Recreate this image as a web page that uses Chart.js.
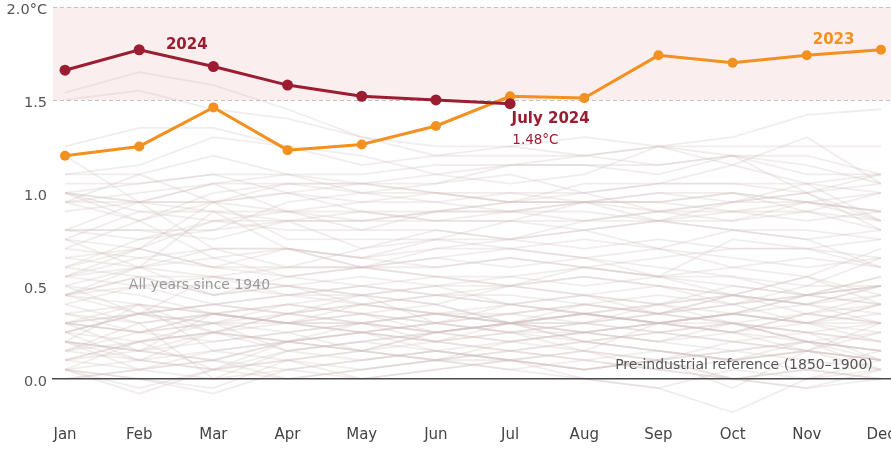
<!DOCTYPE html>
<html>
<head>
<meta charset="utf-8">
<script src="https://cdn.jsdelivr.net/npm/chart.js@4.4.1/dist/chart.umd.min.js"></script>
<style>
html,body{margin:0;padding:0;background:#fff;}
#wrap{width:891px;height:451px;}
</style>
</head>
<body>
<div id="wrap"><canvas id="c" width="891" height="451"></canvas></div>
<script>
// ---------- DATA ----------
const months = ["Jan","Feb","Mar","Apr","May","Jun","Jul","Aug","Sep","Oct","Nov","Dec"];
const yTickValues = [0, 0.5, 1.0, 1.5, 2.0];
const yTickLabels = ["0.0", "0.5", "1.0", "1.5", "2.0°C"];
const bandLow = 1.5;
const bandHigh = 2.0;

const values2024 = [1.66, 1.77, 1.68, 1.58, 1.52, 1.50, 1.48];
const values2023 = [1.20, 1.25, 1.46, 1.23, 1.26, 1.36, 1.52, 1.51, 1.74, 1.70, 1.74, 1.77];

const years1940s = [
  [0.15,0.25,0.30,0.35,0.30,0.35,0.40,0.35,0.40,0.35,0.45,0.50],
  [0.45,0.40,0.35,0.40,0.45,0.40,0.50,0.45,0.40,0.50,0.45,0.40],
  [0.35,0.30,0.35,0.30,0.30,0.25,0.30,0.25,0.30,0.35,0.30,0.35],
  [0.25,0.35,0.30,0.40,0.35,0.30,0.35,0.30,0.40,0.45,0.40,0.50],
  [0.45,0.50,0.40,0.45,0.50,0.45,0.50,0.55,0.50,0.45,0.40,0.35],
  [0.40,0.30,0.35,0.40,0.35,0.30,0.40,0.45,0.40,0.30,0.25,0.10],
  [0.20,0.15,0.20,0.25,0.15,0.10,0.15,0.20,0.15,0.10,0.15,0.05],
  [0.10,0.20,0.25,0.20,0.15,0.25,0.30,0.20,0.25,0.30,0.20,0.10],
  [0.25,0.10,0.05,0.20,0.25,0.20,0.15,0.20,0.15,0.10,0.15,0.10],
  [0.20,0.15,0.10,0.20,0.15,0.10,0.20,0.15,0.10,0.15,0.10,0.05]
];
const years1950s = [
  [0.00,0.05,0.10,0.05,0.10,0.15,0.10,0.05,0.10,0.00,-0.05,0.05],
  [0.05,-0.05,0.05,0.15,0.20,0.25,0.30,0.30,0.35,0.30,0.25,0.30],
  [0.30,0.25,0.20,0.25,0.30,0.25,0.30,0.25,0.20,0.15,0.20,0.25],
  [0.30,0.35,0.40,0.35,0.30,0.35,0.30,0.30,0.25,0.30,0.25,0.20],
  [0.10,0.20,0.05,0.10,0.05,0.10,0.10,0.05,0.10,0.15,0.20,0.05],
  [0.20,0.05,0.00,0.05,0.10,0.15,0.10,0.15,0.05,0.00,-0.05,0.00],
  [0.05,-0.08,0.05,0.00,0.05,0.10,0.05,0.00,-0.05,0.05,0.00,0.10],
  [0.10,0.15,0.10,0.20,0.25,0.30,0.25,0.30,0.35,0.30,0.35,0.40],
  [0.50,0.45,0.35,0.30,0.35,0.25,0.30,0.25,0.30,0.35,0.30,0.30],
  [0.30,0.25,0.35,0.30,0.25,0.30,0.25,0.30,0.25,0.20,0.25,0.20]
];
const years1960s = [
  [0.15,0.30,0.00,0.15,0.20,0.25,0.20,0.25,0.30,0.25,0.15,0.30],
  [0.25,0.35,0.30,0.30,0.25,0.30,0.25,0.25,0.20,0.25,0.20,0.15],
  [0.30,0.25,0.30,0.25,0.30,0.25,0.20,0.25,0.30,0.25,0.30,0.20],
  [0.20,0.40,0.15,0.20,0.25,0.20,0.30,0.35,0.40,0.45,0.40,0.30],
  [0.15,0.10,0.05,0.10,0.00,0.05,0.10,0.00,-0.05,-0.18,0.00,0.05],
  [0.10,0.05,0.10,0.00,0.05,0.10,0.05,0.10,0.15,0.10,0.05,0.15],
  [0.15,0.20,0.25,0.20,0.15,0.25,0.30,0.20,0.15,0.10,0.20,0.15],
  [0.20,0.10,0.25,0.20,0.25,0.15,0.20,0.25,0.20,0.30,0.20,0.15],
  [0.05,0.20,0.30,0.15,0.10,0.15,0.10,0.15,0.10,0.20,0.15,0.10],
  [0.20,0.15,0.25,0.35,0.40,0.35,0.30,0.35,0.30,0.35,0.45,0.40]
];
const years1970s = [
  [0.35,0.40,0.25,0.30,0.25,0.20,0.25,0.20,0.25,0.20,0.15,0.10],
  [0.05,0.00,-0.05,0.10,0.15,0.10,0.15,0.10,0.05,0.10,0.15,0.10],
  [0.00,0.05,0.15,0.20,0.30,0.35,0.35,0.40,0.35,0.40,0.45,0.50],
  [0.50,0.60,0.55,0.50,0.45,0.50,0.40,0.35,0.30,0.30,0.20,0.15],
  [0.05,0.10,0.15,0.10,0.15,0.20,0.15,0.10,0.05,0.00,0.05,0.00],
  [0.25,0.20,0.25,0.15,0.20,0.15,0.10,0.05,0.10,0.00,0.05,0.00],
  [0.05,0.00,-0.08,0.05,0.00,0.05,0.10,0.05,0.10,-0.05,0.15,0.25],
  [0.25,0.35,0.40,0.45,0.40,0.45,0.40,0.35,0.30,0.25,0.35,0.30],
  [0.30,0.40,0.35,0.30,0.30,0.20,0.25,0.15,0.30,0.25,0.35,0.30],
  [0.30,0.15,0.35,0.30,0.35,0.40,0.30,0.40,0.45,0.40,0.50,0.65]
];
const years1980s = [
  [0.45,0.55,0.45,0.50,0.55,0.50,0.50,0.45,0.50,0.45,0.55,0.45],
  [0.65,0.60,0.65,0.55,0.50,0.55,0.50,0.55,0.50,0.40,0.45,0.55],
  [0.30,0.35,0.25,0.35,0.40,0.35,0.30,0.35,0.30,0.35,0.40,0.50],
  [0.70,0.65,0.60,0.55,0.60,0.55,0.50,0.60,0.55,0.45,0.55,0.40],
  [0.45,0.35,0.40,0.35,0.45,0.30,0.35,0.40,0.35,0.40,0.30,0.25],
  [0.35,0.25,0.35,0.30,0.40,0.35,0.30,0.35,0.30,0.35,0.30,0.40],
  [0.45,0.55,0.45,0.50,0.40,0.45,0.40,0.45,0.35,0.45,0.40,0.45],
  [0.45,0.60,0.45,0.55,0.60,0.65,0.70,0.65,0.70,0.60,0.55,0.70],
  [0.75,0.60,0.70,0.70,0.65,0.60,0.65,0.60,0.55,0.55,0.45,0.50],
  [0.40,0.50,0.55,0.50,0.45,0.50,0.55,0.50,0.55,0.50,0.45,0.55]
];
const years1990s = [
  [0.55,0.60,0.90,0.70,0.60,0.65,0.60,0.65,0.55,0.75,0.70,0.60],
  [0.65,0.70,0.60,0.70,0.60,0.70,0.70,0.65,0.60,0.55,0.50,0.50],
  [0.60,0.55,0.55,0.45,0.45,0.40,0.30,0.35,0.30,0.35,0.30,0.40],
  [0.55,0.50,0.50,0.45,0.50,0.45,0.45,0.40,0.35,0.45,0.35,0.45],
  [0.50,0.35,0.55,0.60,0.60,0.55,0.55,0.60,0.65,0.70,0.70,0.65],
  [0.80,0.95,0.70,0.70,0.65,0.75,0.75,0.80,0.70,0.80,0.75,0.60],
  [0.55,0.70,0.60,0.60,0.60,0.60,0.65,0.60,0.55,0.60,0.65,0.60],
  [0.55,0.65,0.70,0.60,0.70,0.80,0.75,0.85,0.90,0.95,0.95,0.90],
  [0.95,1.10,0.95,1.05,1.00,0.95,1.00,0.95,0.85,0.80,0.75,0.80],
  [0.70,0.85,0.65,0.70,0.65,0.70,0.75,0.70,0.75,0.70,0.70,0.75]
];
const years2000s = [
  [0.60,0.75,0.80,0.85,0.70,0.75,0.70,0.75,0.70,0.65,0.60,0.65],
  [0.75,0.70,0.85,0.85,0.85,0.85,0.90,0.90,0.85,0.85,0.95,0.85],
  [0.95,1.00,1.05,0.90,0.90,0.90,0.90,0.85,0.90,0.85,0.90,0.85],
  [1.00,0.90,0.90,0.85,0.90,0.85,0.85,0.95,0.95,1.00,0.90,1.00],
  [0.90,0.95,0.95,0.90,0.80,0.80,0.75,0.80,0.85,0.95,1.00,0.85],
  [0.95,0.85,0.95,1.00,0.95,1.00,0.95,0.95,1.00,1.00,0.95,0.90],
  [0.75,0.90,0.85,0.80,0.80,0.90,0.90,0.95,0.95,1.00,0.95,1.00],
  [1.20,0.95,0.95,1.00,0.90,0.85,0.85,0.85,0.85,0.80,0.80,0.75],
  [0.60,0.70,0.95,0.75,0.75,0.75,0.85,0.80,0.85,0.90,0.90,0.80],
  [0.80,0.80,0.75,0.85,0.85,0.90,0.95,0.95,0.95,0.90,0.95,0.90]
];
const years2010s = [
  [1.00,1.05,1.10,1.10,1.05,1.00,1.00,1.00,0.90,0.95,1.00,0.80],
  [0.80,0.75,0.85,0.90,0.85,0.90,0.95,0.95,0.90,0.90,0.85,0.90],
  [0.80,0.80,0.80,0.95,1.00,1.00,0.95,1.00,1.05,1.05,1.05,0.85],
  [0.95,0.95,0.90,0.90,0.95,0.95,0.90,0.95,1.00,0.95,1.05,1.00],
  [1.00,0.85,1.00,1.05,1.05,1.00,0.95,1.05,1.05,1.05,1.00,1.10],
  [1.05,1.05,1.10,1.00,1.05,1.10,1.05,1.10,1.25,1.30,1.42,1.45],
  [1.54,1.65,1.58,1.45,1.30,1.25,1.25,1.30,1.25,1.20,1.20,1.10],
  [1.25,1.35,1.35,1.25,1.20,1.10,1.15,1.15,1.10,1.20,1.10,1.10],
  [1.00,0.95,1.05,1.10,1.00,1.05,1.10,1.00,1.05,1.15,1.05,1.10],
  [1.10,1.15,1.30,1.25,1.15,1.20,1.25,1.20,1.25,1.25,1.25,1.25]
];
const years2020s = [
  [1.50,1.55,1.45,1.40,1.30,1.20,1.20,1.20,1.25,1.15,1.30,1.05],
  [1.00,0.95,1.05,1.05,1.05,1.05,1.15,1.15,1.15,1.20,1.15,1.05],
  [1.10,1.10,1.20,1.10,1.10,1.15,1.15,1.20,1.15,1.20,1.00,1.05]
];

// ---------- CHART ----------
const RED = '#9c1c31';
const ORANGE = '#f2911f';
const FONT = '"DejaVu Sans", sans-serif';

const pastYears = [].concat(years1940s, years1950s, years1960s, years1970s,
  years1980s, years1990s, years2000s, years2010s, years2020s);

const toPoints = arr => arr.map((v, i) => ({x: i, y: v}));

const datasets = [
  {data: toPoints(values2024), borderColor: RED, backgroundColor: RED, borderWidth: 3,
   pointRadius: 5.5, pointBorderWidth: 0, pointBackgroundColor: RED},
  {data: toPoints(values2023), borderColor: ORANGE, backgroundColor: ORANGE, borderWidth: 3,
   pointRadius: 5, pointBorderWidth: 0, pointBackgroundColor: ORANGE}
];
pastYears.forEach(arr => datasets.push({
  data: toPoints(arr), borderColor: 'rgba(208,190,190,0.27)', borderWidth: 1.8, pointRadius: 0
}));

const decorPlugin = {
  id: 'decor',
  beforeDatasetsDraw(chart) {
    const {ctx, chartArea: a, scales: {y}} = chart;
    const yHi = y.getPixelForValue(bandHigh), yLo = y.getPixelForValue(bandLow);
    ctx.save();
    ctx.fillStyle = '#fbeeee';
    ctx.fillRect(a.left - 2, yHi, a.right - a.left + 2, yLo - yHi);
    ctx.strokeStyle = '#c4c0c0';
    ctx.lineWidth = 1;
    ctx.setLineDash([4, 3]);
    [bandHigh, bandLow].forEach(v => {
      const py = Math.round(y.getPixelForValue(v)) + 0.5;
      ctx.beginPath(); ctx.moveTo(a.left - 2, py); ctx.lineTo(a.right, py); ctx.stroke();
    });
    ctx.restore();
  },
  afterDatasetsDraw(chart) {
    const {ctx, chartArea: a, scales: {x, y}} = chart;
    ctx.save();
    const p0 = y.getPixelForValue(0);
    ctx.strokeStyle = '#4a4a4a';
    ctx.lineWidth = 1.4;
    ctx.beginPath(); ctx.moveTo(a.left - 3, p0); ctx.lineTo(a.right, p0); ctx.stroke();

    const notes = [
      {t: '2024', xv: 1.36, yv: 1.796, c: RED, f: 'bold 15px', al: 'left'},
      {t: '2023', xv: 10.08, yv: 1.823, c: ORANGE, f: 'bold 15px', al: 'left'},
      {t: 'July 2024', xv: 6.02, yv: 1.398, c: RED, f: 'bold 15px', al: 'left'},
      {t: '1.48°C', xv: 6.03, yv: 1.28, c: RED, f: '13.5px', al: 'left'},
      {t: 'All years since 1940', xv: 0.86, yv: 0.505, c: '#9a9a9a', f: '14px', al: 'left'},
      {t: 'Pre-industrial reference (1850–1900)', xv: 10.89, yv: 0.07, c: '#555', f: '14px', al: 'right'}
    ];
    ctx.textBaseline = 'middle';
    notes.forEach(n => {
      ctx.font = n.f + ' ' + FONT;
      ctx.fillStyle = n.c;
      ctx.textAlign = n.al;
      ctx.fillText(n.t, x.getPixelForValue(n.xv), y.getPixelForValue(n.yv));
    });
    ctx.restore();
  }
};

new Chart(document.getElementById('c'), {
  type: 'line',
  data: {datasets},
  plugins: [decorPlugin],
  options: {
    responsive: false,
    animation: false,
    events: [],
    layout: {autoPadding: false, padding: {top: 7, left: 0, right: 0, bottom: 0}},
    plugins: {legend: {display: false}, tooltip: {enabled: false}},
    elements: {line: {tension: 0}},
    scales: {
      x: {
        type: 'linear', min: -0.135, max: 11.135,
        grid: {display: false, drawTicks: false}, border: {display: false},
        afterBuildTicks: s => { s.ticks = months.map((m, i) => ({value: i})); },
        afterFit: s => { s.height = 35; s.paddingLeft = 0; s.paddingRight = 0; },
        ticks: {autoSkip: false, maxRotation: 0, padding: 10, color: '#444',
          font: {family: FONT, size: 15},
          callback: v => months[v]}
      },
      y: {
        type: 'linear', min: -0.2, max: 2.0,
        grid: {display: false, drawTicks: false}, border: {display: false},
        afterBuildTicks: s => { s.ticks = yTickValues.map(v => ({value: v})); },
        afterFit: s => { s.width = 55; s.paddingTop = 0; s.paddingBottom = 0; },
        ticks: {padding: 8, color: '#555', labelOffset: 3,
          font: {family: FONT, size: 14.5},
          callback: v => yTickLabels[yTickValues.indexOf(v)]}
      }
    }
  }
});
</script>
</body>
</html>
